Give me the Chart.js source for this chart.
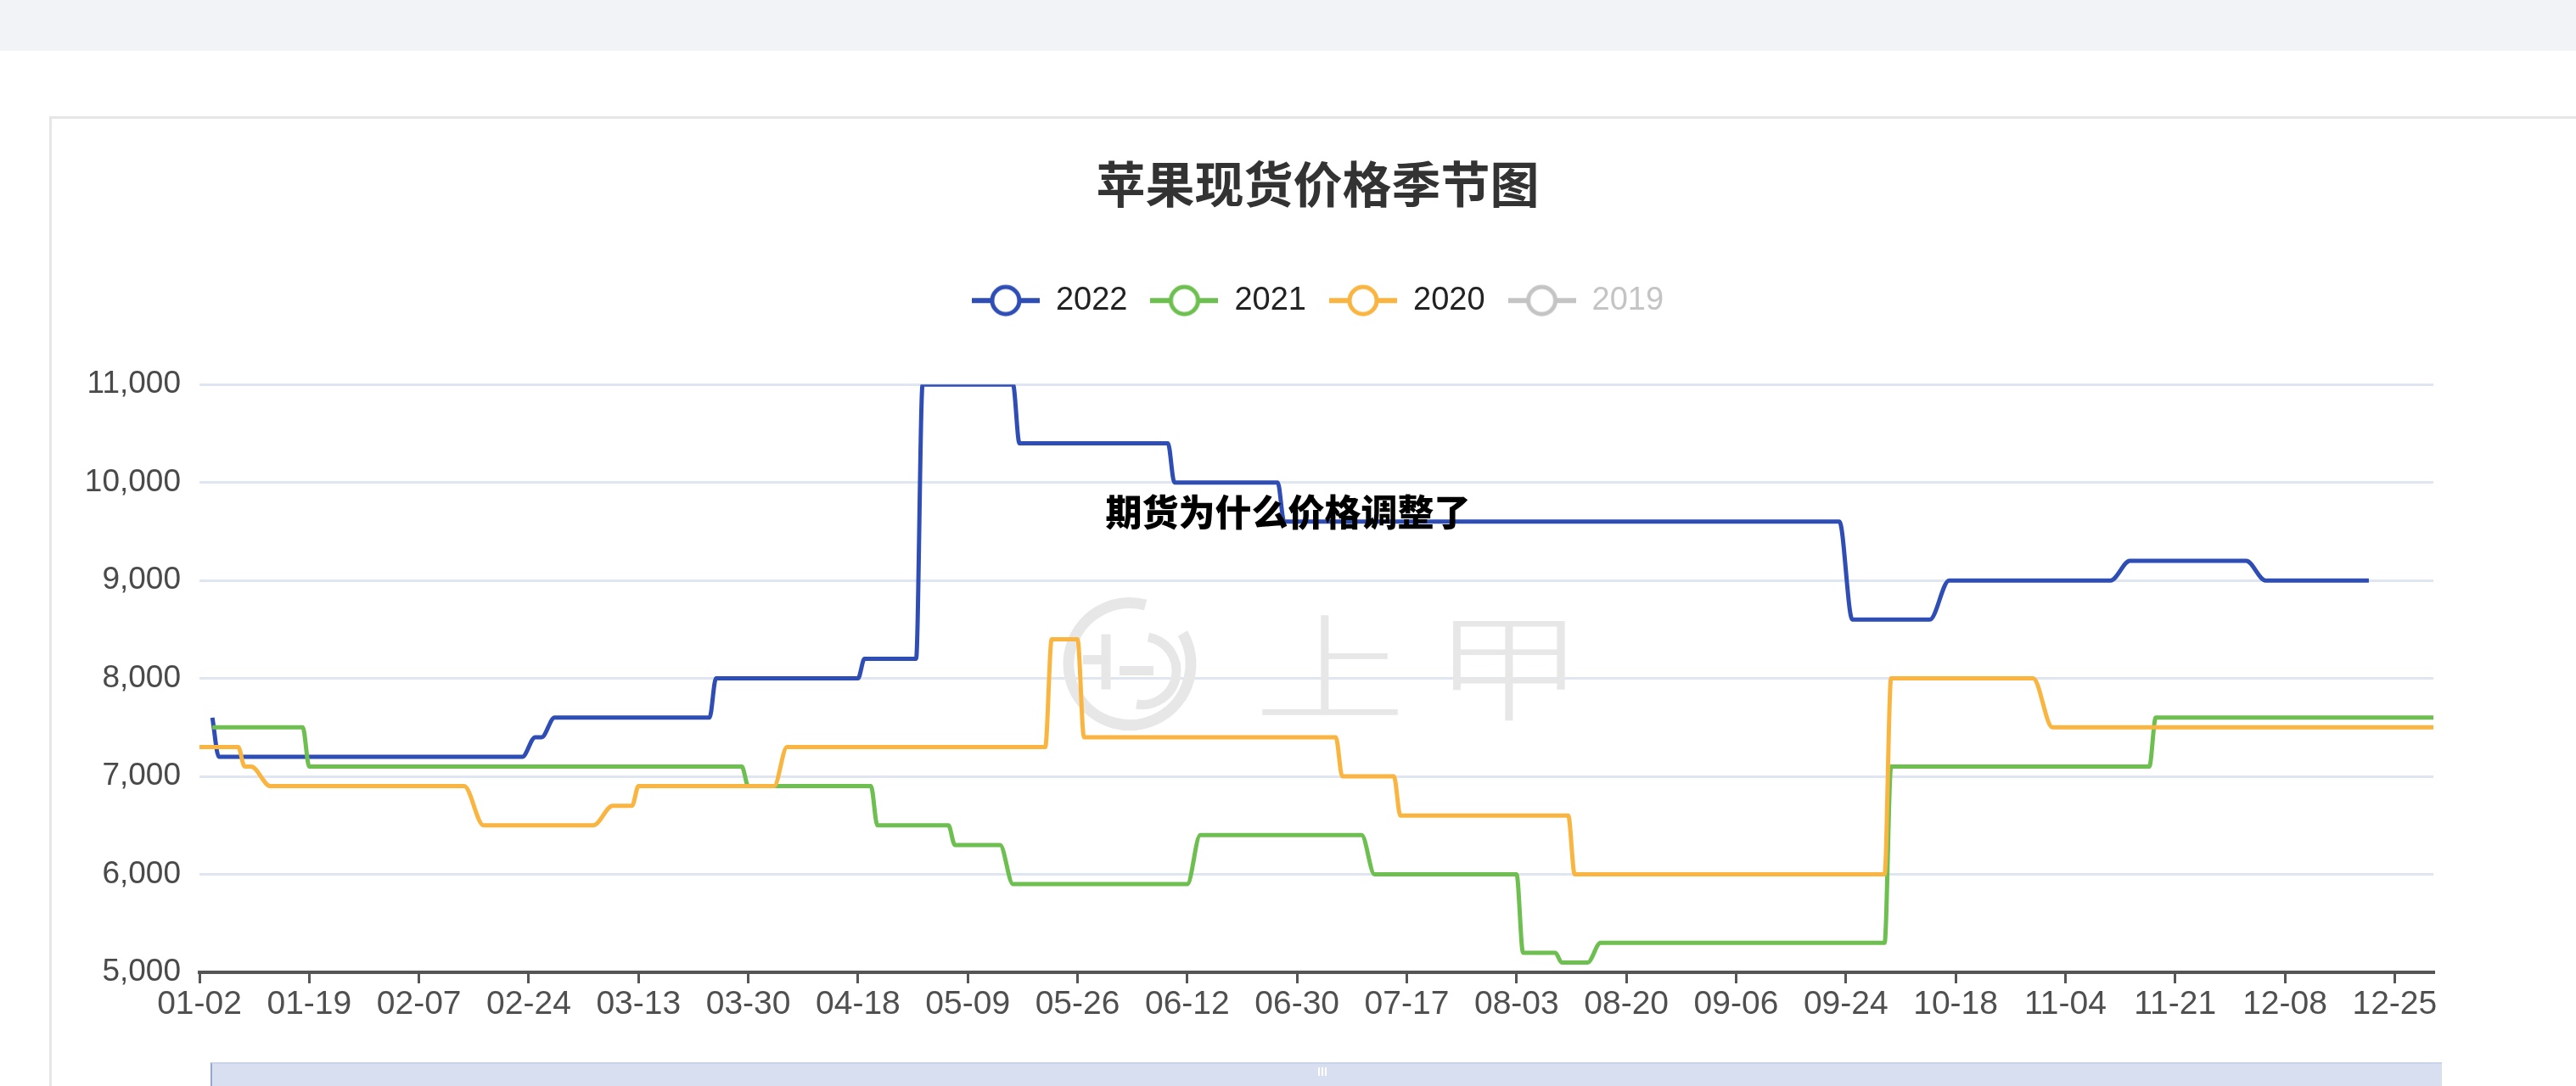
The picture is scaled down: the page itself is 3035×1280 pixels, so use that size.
<!DOCTYPE html>
<html>
<head>
<meta charset="utf-8">
<title>苹果现货价格季节图</title>
<script src="https://cdn.jsdelivr.net/npm/chart.js@4.4.1/dist/chart.umd.min.js"></script>
<style>
html,body{margin:0;padding:0;width:3035px;height:1280px;overflow:hidden;background:#fff;}
#band{position:absolute;left:0;top:0;width:3035px;height:60px;background:#f1f3f7;}
#card{position:absolute;left:58px;top:137px;width:3100px;height:1300px;border-top:3px solid #e6e6e6;border-left:3px solid #e6e6e6;background:#fff;}
#wrap{position:absolute;left:59px;top:140px;width:2987px;height:1140px;}
#slider{position:absolute;left:248px;top:1252px;width:2627px;height:60px;background:#d7dff0;border-top:2px solid #c9d3ea;border-left:2px solid #97a6cc;}
.hb{position:absolute;top:1258px;width:2px;height:10px;background:#fff;}
#overlay{position:absolute;left:0;top:580px;width:3035px;text-align:center;font-family:"Noto Sans CJK SC";font-weight:900;font-size:43px;line-height:43px;color:#000;z-index:5;}
</style>
</head>
<body>
<div id="band"></div>
<div id="card"></div>
<div id="wrap"><canvas id="c" width="2987" height="1140"></canvas></div>
<div id="slider"></div>
<div class="hb" style="left:1553px"></div>
<div class="hb" style="left:1557px"></div>
<div class="hb" style="left:1561px"></div>
<div id="overlay">期货为什么价格调整了</div>
<script>
// ---------- data ----------
const chartTitle = '苹果现货价格季节图';
const seriesNames = ['2022', '2021', '2020', '2019'];
const monthDays = [31, 28, 31, 30, 31, 30, 31, 31, 30, 31, 30, 31];
const excludedDates = ['01-01','02-01','02-02','04-04','04-05','05-01','05-02','05-03','05-04','06-25','09-21','10-01','10-02','10-03','10-04','10-05','10-06','10-07'];
const tickLabels = ['01-02','01-19','02-07','02-24','03-13','03-30','04-18','05-09','05-26','06-12','06-30','07-17','08-03','08-20','09-06','09-24','10-18','11-04','11-21','12-08','12-25'];
const yTicks = [5000, 6000, 7000, 8000, 9000, 10000, 11000];

const dates2022 = ['01-04','01-05','02-23','02-25','02-26','02-28','03-24','03-25','04-18','04-19','04-27','04-28','05-16','05-17','06-09','06-10','06-27','06-28','09-23','09-25','10-14','10-17','11-11','11-14','12-02','12-05','12-21'];
const values2022 = [7600,7200,7200,7400,7400,7600,7600,8000,8000,8200,8200,11000,11000,10400,10400,10000,10000,9600,9600,8600,8600,9000,9000,9200,9200,9000,9000];

const dates2021 = ['01-04','01-18','01-19','03-29','03-30','04-20','04-21','05-06','05-07','05-14','05-16','06-12','06-14','07-10','07-12','08-03','08-04','08-09','08-10','08-14','08-16','09-30','10-08','11-17','11-18','12-31'];
const values2021 = [7500,7500,7100,7100,6900,6900,6500,6500,6300,6300,5900,5900,6400,6400,6000,6000,5200,5200,5100,5100,5300,5300,7100,7100,7600,7600];

const dates2020 = ['01-02','01-08','01-09','01-10','01-13','02-14','02-17','03-06','03-09','03-12','03-13','04-03','04-07','05-21','05-22','05-26','05-27','07-06','07-07','07-15','07-16','08-11','08-12','09-30','10-08','10-30','11-02','12-31'];
const values2020 = [7300,7300,7100,7100,6900,6900,6500,6500,6700,6700,6900,6900,7300,7300,8400,8400,7400,7400,7000,7000,6600,6600,6000,6000,8000,8000,7500,7500];

const dates2019 = [];
const values2019 = [];

// ---------- styles ----------
const colors = ['#2f4eb5', '#6dbf4f', '#f9b540', '#c4c4c4'];
const disabledColor = '#c4c4c4';

// category axis labels (MM-DD) built from the calendar minus days without quotes
const categories = [];
monthDays.forEach((n, m) => {
  for (let d = 1; d <= n; d++) {
    const lab = String(m + 1).padStart(2, '0') + '-' + String(d).padStart(2, '0');
    if (!excludedDates.includes(lab)) categories.push(lab);
  }
});
const tickSet = new Set(tickLabels);

function toPoints(dates, values) {
  return dates.map((d, i) => ({ x: d, y: values[i] }));
}

function makeIcon(color) {
  const c = document.createElement('canvas');
  c.width = 80; c.height = 44;
  const g = c.getContext('2d');
  g.strokeStyle = color;
  g.lineWidth = 6;
  g.beginPath(); g.moveTo(0, 22); g.lineTo(80, 22); g.stroke();
  g.beginPath(); g.arc(40, 22, 16, 0, Math.PI * 2);
  g.fillStyle = '#fff'; g.fill();
  g.lineWidth = 5; g.stroke();
  return c;
}

const hiddenSeries = [false, false, false, true];
const allDates = [dates2022, dates2021, dates2020, dates2019];
const allValues = [values2022, values2021, values2020, values2019];
const datasets = seriesNames.map((name, i) => ({
  label: name,
  data: toPoints(allDates[i], allValues[i]),
  borderColor: colors[i],
  backgroundColor: colors[i],
  borderWidth: 5,
  pointRadius: 0,
  pointHoverRadius: 0,
  fill: false,
  cubicInterpolationMode: 'monotone',
  hidden: hiddenSeries[i],
  order: 3 - i
}));

const icons = colors.map((c, i) => makeIcon(hiddenSeries[i] ? disabledColor : c));

const watermarkPlugin = {
  id: 'watermark',
  beforeDatasetsDraw(chart) {
    const { ctx, chartArea } = chart;
    const cx = (chartArea.left + chartArea.right) / 2;
    const cy = (chartArea.top + chartArea.bottom) / 2 - 17;
    ctx.save();
    ctx.strokeStyle = '#e7e7e7';
    ctx.fillStyle = '#e7e7e7';
    ctx.lineCap = 'butt';
    // logo ring
    ctx.lineWidth = 13;
    ctx.beginPath();
    ctx.arc(cx - 220, cy, 72, -30 * Math.PI / 180, 285 * Math.PI / 180);
    ctx.stroke();
    // inner marks of the logo
    ctx.lineWidth = 11;
    ctx.beginPath();
    ctx.arc(cx - 205, cy + 8, 40, -80 * Math.PI / 180, 100 * Math.PI / 180);
    ctx.stroke();
    ctx.beginPath();
    ctx.moveTo(cx - 232, cy + 8); ctx.lineTo(cx - 192, cy + 8);
    ctx.stroke();
    ctx.beginPath();
    ctx.moveTo(cx - 248, cy - 35); ctx.lineTo(cx - 248, cy + 30);
    ctx.stroke();
    ctx.beginPath();
    ctx.moveTo(cx - 275, cy - 5); ctx.lineTo(cx - 248, cy - 5);
    ctx.stroke();
    // characters
    ctx.font = '300 138px "Noto Sans CJK SC"';
    ctx.textAlign = 'center';
    ctx.textBaseline = 'middle';
    [['上', 16], ['甲', 227]].forEach(([t, dx]) => {
      ctx.save();
      ctx.translate(cx + dx, cy + 3);
      ctx.scale(1.3, 1);
      ctx.fillText(t, 0, 0);
      ctx.restore();
    });
    ctx.restore();
  }
};

new Chart(document.getElementById('c'), {
  type: 'line',
  data: { labels: categories, datasets },
  options: {
    responsive: false,
    animation: false,
    devicePixelRatio: 1,
    layout: { padding: { top: 0, left: 0, right: 0, bottom: 54 } },
    plugins: {
      title: {
        display: true,
        text: chartTitle,
        color: '#333',
        font: { family: 'Noto Sans CJK SC', size: 58, weight: 'bold' },
        padding: { top: 42.5, bottom: 56.1 }
      },
      subtitle: {
        display: true,
        text: '',
        weight: 500,
        font: { size: 1 },
        padding: { top: 68.8, bottom: 0 }
      },
      legend: {
        display: true,
        position: 'top',
        labels: {
          usePointStyle: true,
          pointStyleWidth: 80,
          padding: 27,
          color: '#222',
          font: { family: 'Liberation Sans', size: 38 },
          generateLabels(chart) {
            return chart.data.datasets.map((ds, i) => ({
              text: ds.label,
              fillStyle: '#fff',
              strokeStyle: hiddenSeries[i] ? disabledColor : colors[i],
              lineWidth: 0,
              hidden: false,
              datasetIndex: i,
              pointStyle: icons[i],
              fontColor: hiddenSeries[i] ? disabledColor : '#222'
            }));
          }
        }
      },
      tooltip: { enabled: false }
    },
    scales: {
      x: {
        type: 'category',
        offset: false,
        grid: {
          display: true,
          drawOnChartArea: false,
          drawTicks: true,
          tickLength: 13,
          lineWidth: 3,
          color: '#555'
        },
        border: { display: true, color: '#555', width: 4 },
        ticks: {
          autoSkip: false,
          maxRotation: 0,
          minRotation: 0,
          padding: 2,
          color: '#505050',
          font: { family: 'Liberation Sans', size: 39 },
          callback: function (v, i) {
            const l = categories[i];
            return tickSet.has(l) ? l : null;
          }
        },
        afterFit: s => { s.height = 80; }
      },
      y: {
        min: yTicks[0],
        max: yTicks[yTicks.length - 1],
        grid: { color: '#e0e6f1', lineWidth: 3, drawTicks: false },
        border: { display: false },
        ticks: {
          stepSize: 1000,
          padding: 22,
          color: '#4a4a4a',
          font: { family: 'Liberation Sans', size: 37 },
          callback: v => Number(v).toLocaleString('en-US')
        },
        afterFit: s => { s.width = 176; }
      },
      yRight: {
        position: 'right',
        display: true,
        grid: { display: false, drawTicks: false },
        border: { display: false },
        ticks: { display: false },
        afterFit: s => { s.width = 179; }
      }
    }
  },
  plugins: [watermarkPlugin]
});
</script>
</body>
</html>
